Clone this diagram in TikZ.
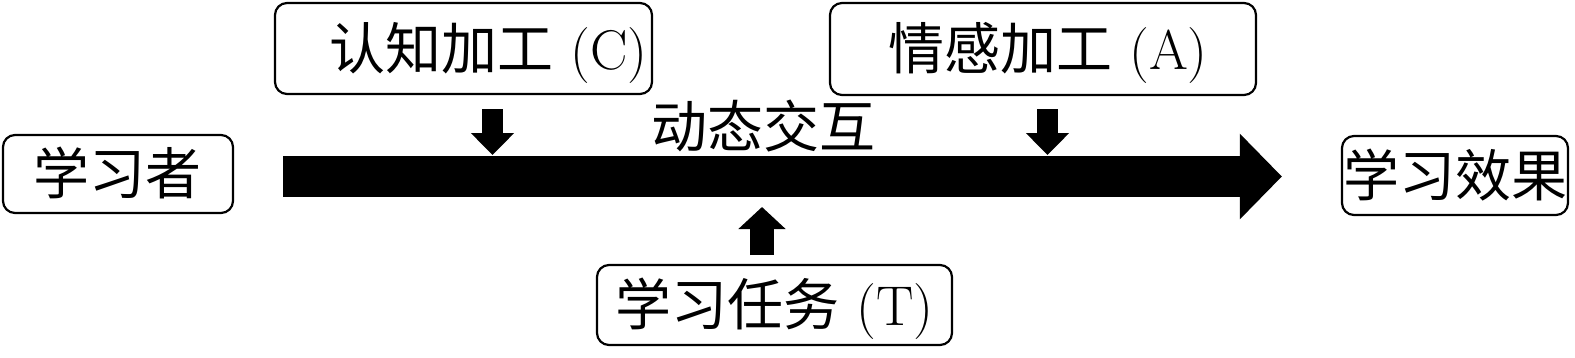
\documentclass[tikz,border=0pt]{standalone}
\usepackage{fontspec}
\newfontfamily\cjk{Noto Sans CJK SC}
\usetikzlibrary{arrows.meta}
\begin{document}
\begin{tikzpicture}[x=1pt,y=-1pt,
  txt/.style={inner sep=0pt, font=\fontsize{56}{60}\selectfont, text height=41pt, text depth=0pt},
  box/.style={txt, draw, line width=2.2pt, rounded corners=12pt},
  bigarrow/.style={line width=41pt, -{Triangle[width=83pt,length=42pt]}},
  smallarrow/.style={line width=21pt, -{Triangle[width=42pt,length=22pt]}},
  uparrow/.style={line width=24pt, -{Triangle[width=46pt,length=22pt]}}]
\useasboundingbox (0,0) rectangle (1575,357);
\node[box, minimum width=230pt, minimum height=78pt] (L) at (118,174) {\cjk 学习者};
\node[box, minimum width=226pt, minimum height=79pt] (E) at (1455,175.5) {\cjk 学习效果};
\node[box, minimum width=377pt, minimum height=91pt] (C) at (463.5,48.5) {\hspace*{50pt}{\cjk 认知加工} (C)};
\node[box, minimum width=426pt, minimum height=92pt] (A) at (1043,49) {\hspace*{10pt}{\cjk 情感加工} (A)};
\node[box, minimum width=355pt, minimum height=80pt] (T) at (774.5,305) {{\cjk 学习任务} (T)};
\node[txt] (D) at (763,127) {\cjk 动态交互};
% main arrow
\draw[bigarrow, shorten <=49pt, shorten >=59pt] ([yshift=-2.5pt]L.east) -- ([yshift=-1pt]E.west);
% small arrows
\coordinate (ca) at (492.5,109);
\coordinate (cb) at (492.5,155);
\coordinate (aa) at (1047.5,109);
\coordinate (ab) at (1047.5,155);
\coordinate (ta) at (762,255);
\coordinate (tb) at (762,207);
\draw[smallarrow] (ca) -- (cb);
\draw[smallarrow] (aa) -- (ab);
\draw[uparrow] (ta) -- (tb);
\end{tikzpicture}
\end{document}
